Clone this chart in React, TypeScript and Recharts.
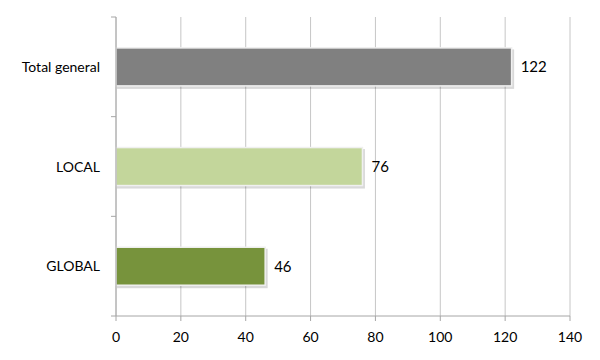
import React from "react";
import { BarChart, Bar, XAxis, YAxis, CartesianGrid, Cell, LabelList } from "recharts";

const categories = ["Total general", "LOCAL", "GLOBAL"];
const values = [122, 76, 46];
const xTicks = [0, 20, 40, 60, 80, 100, 120, 140];

const barColors = ["#808080", "#c3d69b", "#77933c"];
const FONT = "Lato, 'Open Sans', sans-serif";

const data = categories.map((name, i) => ({ name, value: values[i] }));

const BarShape = (props: any) => {
  const { x, y, width, height, fill } = props;
  if (width <= 0) return null;
  return (
    <g>
      <rect x={x + 1} y={y + 1.5} width={width + 1.5} height={height + 1.5} fill="rgba(0,0,0,0.15)" />
      <rect x={x} y={y} width={width} height={height} fill={fill} stroke="#f0f0f0" strokeWidth={1.5} />
    </g>
  );
};

const YTick = (props: any) => {
  const { x, y, payload, index } = props;
  const off = payload.offset ?? 0;
  const ax = x + 8;
  return (
    <g>
      <line x1={ax - 5} x2={ax} y1={y - off} y2={y - off} stroke="#a6a6a6" />
      {index === categories.length - 1 && (
        <line x1={ax - 5} x2={ax} y1={y + off} y2={y + off} stroke="#a6a6a6" />
      )}
      <text x={x - 8} y={y} dy={5} textAnchor="end" fontFamily={FONT} fontSize={14} fill="#000">
        {payload.value}
      </text>
    </g>
  );
};

export default function App() {
  return (
    <div style={{ position: "absolute", left: 0, top: 0, width: 600, height: 360, background: "#fff" }}>
      <BarChart
        width={600}
        height={360}
        data={data}
        layout="vertical"
        margin={{ top: 17, right: 30, left: 0, bottom: 0 }}
        barCategoryGap="31%"
      >
        <CartesianGrid horizontal={false} vertical={true} stroke="#c6c6c6" />
        <XAxis
          type="number"
          domain={[0, 140]}
          ticks={xTicks}
          interval={0}
          height={44}
          axisLine={{ stroke: "#a6a6a6" }}
          tickLine={{ stroke: "#a6a6a6" }}
          tickSize={5}
          tick={{ fontFamily: FONT, fontSize: 14, fill: "#000" }}
          tickMargin={11}
        />
        <YAxis
          type="category"
          dataKey="name"
          width={116}
          axisLine={{ stroke: "#a6a6a6" }}
          tickLine={false}
          tick={<YTick />}
          interval={0}
        />
        <Bar dataKey="value" isAnimationActive={false} shape={<BarShape />}>
          {data.map((d, i) => (
            <Cell key={d.name} fill={barColors[i]} />
          ))}
          <LabelList dataKey="value" position="right" offset={9} fontFamily={FONT} fontSize={15} fill="#000" />
        </Bar>
      </BarChart>
    </div>
  );
}
